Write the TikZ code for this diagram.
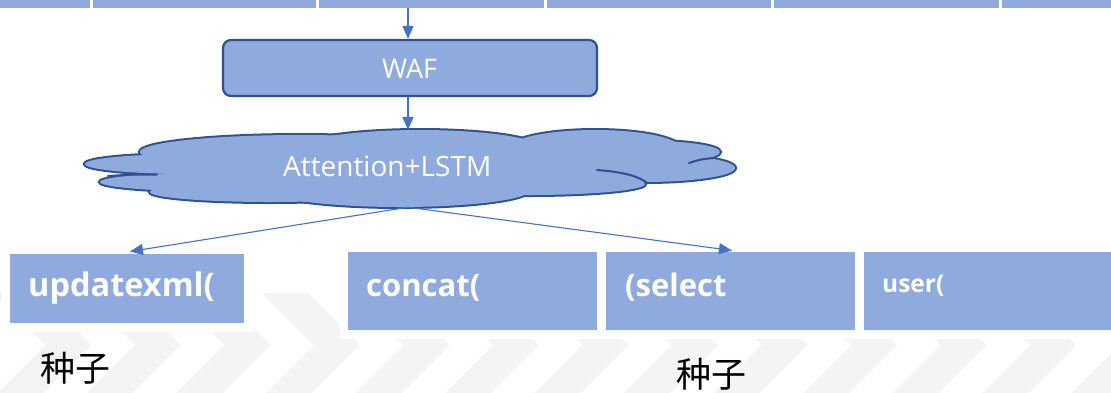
\documentclass[tikz,border=0pt]{standalone}
\usepackage{fontspec}
\setmainfont{Open Sans}
\newfontfamily\cjkfont{Noto Sans CJK SC}
\usetikzlibrary{arrows.meta}
\definecolor{boxblue}{HTML}{8FAADC}
\definecolor{edgeblue}{HTML}{2F528F}
\definecolor{linkblue}{HTML}{4472C4}
\definecolor{chevgray}{HTML}{F4F4F4}
\tikzset{
  stripbox/.style={fill=boxblue, inner sep=0, outer sep=0},
  tokenbox/.style={fill=boxblue, draw=white, line width=2.5, inner sep=0, outer sep=0,
    preaction={draw=white, line width=15}},
  tokentext/.style={text=white, font=\bfseries\fontsize{31}{31}\selectfont, inner sep=0, anchor=base west},
  seedtext/.style={text=black, font=\cjkfont\fontsize{35}{35}\selectfont, inner sep=0},
  link/.style={draw=linkblue, line width=1.1, -{Triangle[length=13pt,width=11pt]}},
  vlink/.style={draw=linkblue, line width=1.6, -{Triangle[length=13pt,width=11pt]}},
  lobe/.style={draw=edgeblue, line width=4},
  seam/.style={draw=edgeblue, line width=2, line cap=round},
}
\begin{document}
\begin{tikzpicture}[x=1pt, y=-1pt]
\useasboundingbox (0,0) rectangle (1111,392);
\clip (0,0) rectangle (1111,392);

% faint chevron band along the bottom
\foreach \k in {-3,...,9} {
  \pgfmathsetmacro\xo{262+89.5*\k}
  \fill[chevgray] (\xo,293) -- ++(46,0) -- ++(52,52) -- ++(-52,52) -- ++(-46,0) -- ++(52,-52) -- cycle;
}

% token strip at the top
\node[stripbox, minimum width=89.5, minimum height=8, anchor=north west] (seg1) at (0,0) {};
\node[stripbox, minimum width=223, minimum height=8, anchor=north west] (seg2) at (92.5,0) {};
\node[stripbox, minimum width=225, minimum height=8, anchor=north west] (seg3) at (318.5,0) {};
\node[stripbox, minimum width=224, minimum height=8, anchor=north west] (seg4) at (546.5,0) {};
\node[stripbox, minimum width=225, minimum height=8, anchor=north west] (seg5) at (773.5,0) {};
\node[stripbox, minimum width=110, minimum height=8, anchor=north west] (seg6) at (1001.5,0) {};

% WAF box
\node[fill=boxblue, draw=edgeblue, line width=2.2, rounded corners=8,
      minimum width=374, minimum height=56, inner sep=0] (waf) at (410,68) {};
\node[text=white, font=\fontsize{27}{27}\selectfont, inner sep=0, anchor=base west] (waftext) at (382,78) {WAF};

% cloud: outline of the union of lobes, then the fill on top
\foreach \cx/\cy/\rx/\ry in {190/164/105/10, 235/182/135/10, 300/152/160/17, 420/148/120/18,
    595/148/85/18, 650/152/70/11, 645/168/90/14, 530/184/115/11, 400/190/130/17, 270/192/120/10} {
  \draw[lobe] (\cx,\cy) ellipse [x radius=\rx pt, y radius=\ry pt];
}
\foreach \cx/\cy/\rx/\ry in {190/164/105/10, 235/182/135/10, 300/152/160/17, 420/148/120/18,
    595/148/85/18, 650/152/70/11, 645/168/90/14, 530/184/115/11, 400/190/130/17, 270/192/120/10,
    410/168/250/30} {
  \fill[boxblue] (\cx,\cy) ellipse [x radius=\rx pt, y radius=\ry pt];
}
% inner seams of the cloud
\draw[seam] (108,176) .. controls (130,174.5) .. (157,174.5);
\draw[seam] (597,170) .. controls (625,172) and (640,177) .. (647,183);
\draw[seam] (689,163) .. controls (700,159.5) .. (713,158);

\node[minimum width=650, minimum height=77, inner sep=0] (cloud) at (408,168.5) {};
\node[text=white, font=\fontsize{28}{28}\selectfont, inner sep=0, anchor=base west] (lstm) at (283,176) {Attention+LSTM};

% token boxes
\node[tokenbox, minimum width=236, minimum height=71, anchor=north west] (upd) at (9,253) {};
\node[tokenbox, minimum width=257.5, minimum height=80, anchor=north west] (cat) at (347,251) {};
\node[tokenbox, minimum width=258, minimum height=80, anchor=north west] (sel) at (604.5,251) {};
\node[tokenbox, minimum width=260, minimum height=80, anchor=north west] (usr) at (862.5,251) {};

\node[tokentext, font=\bfseries\fontsize{32.5}{32.5}\selectfont] (updt) at (28,296) {updatexml(};
\node[tokentext] (catt) at (366,296) {concat(};
\node[tokentext] (selt) at (625,296) {(select};
\node[tokentext, font=\bfseries\fontsize{24.5}{24.5}\selectfont] (usrt) at (882,292.5) {user(};

% seed labels
\node[seedtext] (seedL) at (75,368) {种子};
\node[seedtext] (seedR) at (711,374) {种子};

% connectors
\draw[vlink] (seg3.south -| cloud.north) -- (waf.north -| cloud.north);
\draw[vlink] (waf.south -| cloud.north) -- (cloud.north);
\coordinate (tipL) at (130,251.5);
\coordinate (tipR) at (732,250.5);
\draw[link] (cloud.south) -- (tipL);
\draw[link] (cloud.south) -- (tipR);
\end{tikzpicture}
\end{document}
